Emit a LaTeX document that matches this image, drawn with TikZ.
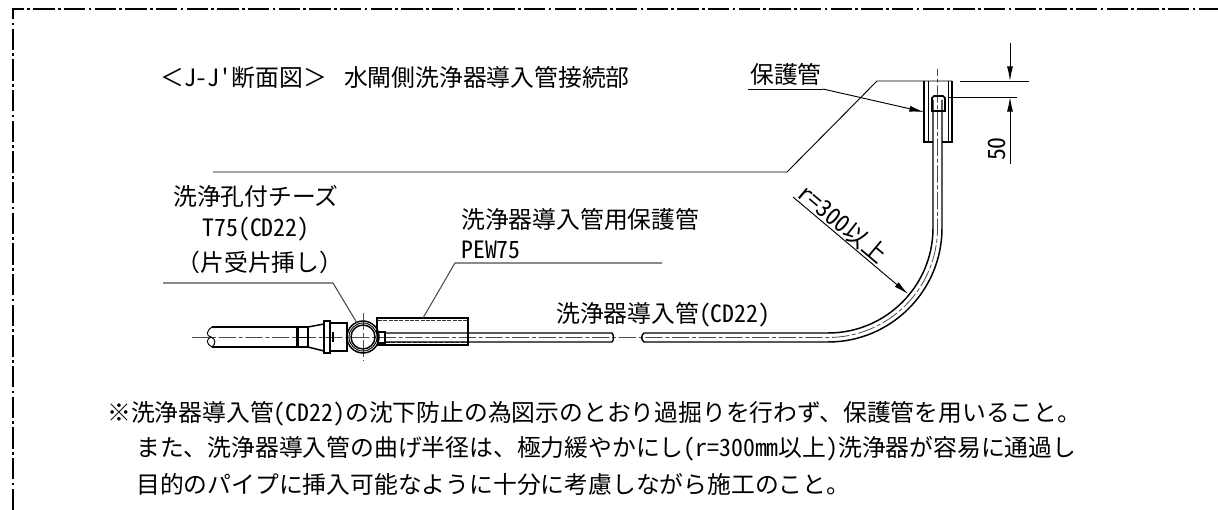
\documentclass[tikz,border=0pt]{standalone}
\usepackage{fontspec}
\usetikzlibrary{arrows.meta}
\setmainfont{Noto Sans CJK JP}
\newfontfamily\han[RawFeature=+hwid]{Noto Sans CJK JP}
\newcommand{\hw}[1]{{\han #1}}
\tikzset{
  outline/.style={line width=1.1pt,black},
  thinline/.style={line width=0.7pt,black},
  leader/.style={line width=0.8pt,black!70},
  centerline/.style={line width=0.6pt,black!70,dash pattern=on 13pt off 2pt on 3pt off 2pt},
  hiddenline/.style={line width=0.9pt,black!80,dash pattern=on 3pt off 1pt},
  frameline/.style={line width=1.4pt,black,dash pattern=on 16pt off 2.5pt on 2pt off 2.5pt},
  txt/.style={inner sep=0pt,anchor=west,font=\fontsize{17.85pt}{20pt}\selectfont},
  tiparrow/.style={-{Latex[length=11pt,width=4.5pt]},line width=0.7pt,black}
}
\begin{document}
\begin{tikzpicture}[x=0.75pt,y=0.75pt,yscale=-1]
\useasboundingbox (0,0) rectangle (1218,510);

% frame
\draw [frameline] (13,510) -- (13,9) -- (1218,9);

% text
\node [txt] (title) at (160,78) {＜\hw{J-J'}断面図＞\hspace{13pt}水閘側洗浄器導入管接続部};
\node [txt] (hogokan) at (750,74) {保護管};
\node [txt,anchor=center] (tee1) at (256,196) {洗浄孔付チーズ};
\node [txt,anchor=center] (tee2) at (256,229) {\hw{T75(CD22)}};
\node [txt,anchor=center] (tee3) at (260,262) {（片受片挿し）};
\node [txt] (prot1) at (461,219) {洗浄器導入管用保護管};
\node [txt] (prot2) at (461,250) {\hw{PEW75}};
\node [txt] (feed) at (556,315) {洗浄器導入管\hw{(CD22)}};
\node [txt,rotate=-40,anchor=center] (radius) at (843,224) {\hw{r=300}以上};
\node [txt,rotate=90,anchor=center] (dim) at (997,149) {\hw{50}};
\node [txt] (note1) at (107,414) {※洗浄器導入管\hw{(CD22)}の沈下防止の為図示のとおり過掘りを行わず、保護管を用いること。};
\node [txt] (note2) at (136,449) {また、洗浄器導入管の曲げ半径は、極力緩やかにし\hw{(r=300mm}以上\hw{)}洗浄器が容易に通過し};
\node [txt] (note3) at (136,484) {目的のパイプに挿入可能なように十分に考慮しながら施工のこと。};

% center lines
\draw [centerline] (192,337.5) -- (828,337.5) arc (90:0:109.5) -- (937.5,69);
\draw [centerline] (363,313) -- (363,360);

% left pipe
\draw [outline] (212,327) -- (297,327);
\draw [outline] (212,347) -- (297,347);
\draw [thinline] (212,327) .. controls (206,331) and (206,336) .. (211,337) .. controls (216,339) and (216,344) .. (212,347);
\draw [thinline] (211,337) .. controls (206,339) and (206,344) .. (212,347);

% collar and cone
\draw [outline,line width=2pt] (298,327) -- (298,347);
\draw [outline] (297,327) rectangle (308,347);
\draw [thinline] (299,337) -- (308,337);
\draw [outline] (308,327) -- (324,324);
\draw [outline] (308,347) -- (324,351);
\draw [outline,line width=1.6pt] (324,321) rectangle (330,353);
\draw [outline] (330,323) rectangle (347,351);
\draw [outline,line width=1.6pt] (333,332) -- (333,342);

% tee
\draw [outline] (363,337) circle (16);
\draw [thinline] (363,337) circle (14);
\draw [outline] (363,337) circle (12);

% protective tube
\draw [outline,line width=1.2pt] (377,333) -- (377,318) -- (468,318) -- (468,345) -- (377,345);
\draw [hiddenline] (378,320.5) -- (467,320.5);
\draw [hiddenline] (386,342.5) -- (467,342.5);
\draw [outline,line width=2pt] (385,331) -- (385,344);
\draw [outline] (378,332) rectangle (385,343);

% feed pipe
\draw [outline] (385,333) -- (612,333) .. controls (614,335) and (614,340) .. (612,342) -- (385,342);
\draw [outline] (828,333) -- (644,333) .. controls (641,335) and (641,340) .. (644,342) -- (828,342);
\draw [outline] (828,333) arc (90:0:105) -- (933,100);
\draw [outline] (828,342) arc (90:0:114) -- (942,100);

% top socket
\draw [outline] (924,81) -- (924,142) -- (933,142);
\draw [outline] (952,81) -- (952,142) -- (942,142);
\draw [thinline] (928,81) -- (928,142);
\draw [thinline] (948,81) -- (948,142);
\draw [outline,line width=1.3pt] (932,111) -- (932,98) -- (934,96) -- (943,96) -- (945,98) -- (945,111) -- cycle;

% leaders
\coordinate (hogoend) at (748,89);
\coordinate (hogobend) at (823,89);
\coordinate (hogotip) at (924,112);
\draw [thinline] (hogoend) -- (hogobend);
\draw [tiparrow] (hogobend) -- (hogotip);

\coordinate (longend) at (213,172);
\coordinate (longbend) at (787,172);
\coordinate (longtop) at (877,81);
\draw [thinline] (longend) -- (longbend) -- (longtop) -- (952,81);

\coordinate (teeend) at (163,283);
\coordinate (teebend) at (333,283);
\coordinate (teetip) at (357,323);
\draw [leader] (teeend) -- (teebend) -- (teetip);

\coordinate (protend) at (662,263);
\coordinate (protbend) at (455,263);
\coordinate (prottip) at (423,318);
\draw [leader] (protend) -- (protbend) -- (prottip);

\coordinate (rstart) at (793,197);
\coordinate (rtip) at (908,294);
\draw [tiparrow] (rstart) -- (rtip);

% dimension 50
\draw [thinline] (960,81) -- (1029,81);
\draw [thinline] (949,97) -- (1017,97);
\coordinate (dimtop) at (1010,43);
\coordinate (dimupper) at (1010,81);
\coordinate (dimlower) at (1010,97);
\coordinate (dimbottom) at (1010,164);
\draw [tiparrow] (dimtop) -- (dimupper);
\draw [tiparrow] (dimbottom) -- (dimlower);

\end{tikzpicture}
\end{document}
